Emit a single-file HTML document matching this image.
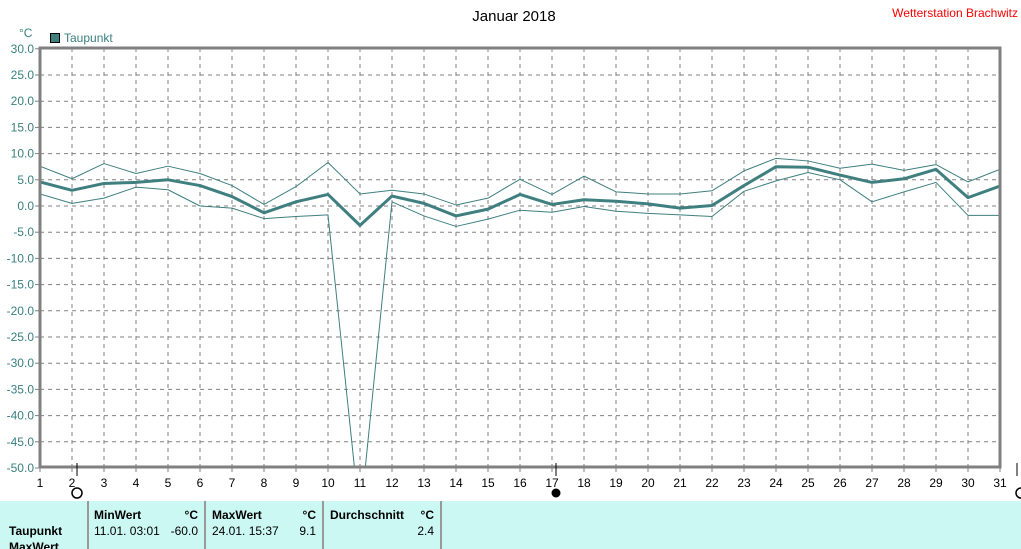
<!DOCTYPE html>
<html><head><meta charset="utf-8"><style>
body{margin:0;background:#fff;width:1021px;height:549px;overflow:hidden;font-family:"Liberation Sans",sans-serif}
svg{display:block}
</style></head><body>
<svg width="1021" height="549">
<text x="514" y="21" font-size="15" text-anchor="middle" fill="#000">Januar 2018</text>
<text x="1018" y="17" font-size="12" text-anchor="end" fill="#ff0000">Wetterstation Brachwitz</text>
<text x="19" y="37" font-size="12" fill="#3a8080">°C</text>
<rect x="50.5" y="33.5" width="9" height="9" fill="#3f7f7f" stroke="#000"/>
<text x="64" y="42" font-size="12" fill="#3a8080">Taupunkt</text>
<defs><clipPath id="pc"><rect x="40" y="48" width="960" height="419"/></clipPath></defs>
<g id="grid"></g>
<g id="ylabels"></g>
<g id="xlabels"></g>
<g id="series" clip-path="url(#pc)"></g>
<rect x="40" y="48" width="960" height="419" fill="none" stroke="#808080" stroke-width="3"/>
<line x1="77" y1="463" x2="77" y2="476" stroke="#000"/>
<circle cx="77" cy="493" r="5" fill="none" stroke="#000" stroke-width="1.5"/>
<line x1="556" y1="463" x2="556" y2="476" stroke="#000"/>
<circle cx="556" cy="493" r="4.5" fill="#000"/>
<line x1="1017" y1="463" x2="1017" y2="476" stroke="#000"/>
<circle cx="1021" cy="493" r="5" fill="none" stroke="#000" stroke-width="1.5"/>
<g font-size="12">
<rect x="0" y="501" width="1021" height="48" fill="#ccf8f4"/>
<g stroke="#999" stroke-width="2"><line x1="88" y1="501" x2="88" y2="549"/><line x1="205" y1="501" x2="205" y2="549"/><line x1="323" y1="501" x2="323" y2="549"/><line x1="441" y1="501" x2="441" y2="549"/></g>
<g font-weight="bold"><text x="94" y="519">MinWert</text><text x="198" y="519" text-anchor="end">°C</text>
<text x="212" y="519">MaxWert</text><text x="316" y="519" text-anchor="end">°C</text>
<text x="330" y="519">Durchschnitt</text><text x="434" y="519" text-anchor="end">°C</text>
<text x="9" y="535">Taupunkt</text><text x="9" y="551">MaxWert</text></g>
<text x="94" y="535">11.01.  03:01</text><text x="198" y="535" text-anchor="end">-60.0</text>
<text x="212" y="535">24.01.  15:37</text><text x="316" y="535" text-anchor="end">9.1</text>
<text x="434" y="535" text-anchor="end">2.4</text>
</g>
</svg>
<script>
const days=[1,2,3,4,5,6,7,8,9,10,11,12,13,14,15,16,17,18,19,20,21,22,23,24,25,26,27,28,29,30,31];
const meanVals=[4.6,3.0,4.3,4.5,5.0,3.9,1.8,-1.3,0.8,2.2,-3.7,1.9,0.5,-1.9,-0.6,2.2,0.3,1.2,0.9,0.4,-0.4,0.1,3.9,7.5,7.4,5.9,4.5,5.2,7.0,1.6,3.8];
const maxVals=[7.6,5.2,8.1,6.2,7.6,6.2,3.9,0.3,3.7,8.3,2.3,3.0,2.3,0.2,1.5,5.1,2.2,5.7,2.7,2.3,2.3,2.9,6.7,9.1,8.6,7.2,8.0,6.8,7.9,4.6,7.0];
const minVals=[2.3,0.5,1.5,3.6,3.1,0.0,-0.4,-2.4,-2.0,-1.7,-60.0,0.8,-1.9,-3.9,-2.5,-0.8,-1.2,-0.1,-1.0,-1.4,-1.7,-2.0,2.8,4.8,6.4,5.0,0.8,2.7,4.5,-1.8,-1.8];
const yTicks=[30,25,20,15,10,5,0,-5,-10,-15,-20,-25,-30,-35,-40,-45,-50];
const NS='http://www.w3.org/2000/svg';
const xs=d=>40+(d-1)*32;
const ys=v=>206-v*5.24;
function mk(t,a,p){const e=document.createElementNS(NS,t);for(const k in a)e.setAttribute(k,a[k]);p.appendChild(e);return e;}
const grid=document.getElementById('grid'),yl=document.getElementById('ylabels'),xl=document.getElementById('xlabels'),ser=document.getElementById('series');
yTicks.forEach(v=>{
  const y=ys(v);
  const l=mk('line',{x1:40,x2:1000,y1:y,y2:y,stroke:'#808080','stroke-dasharray':'4,4'},grid);
  
  
  mk('line',{x1:35,x2:40,y1:y,y2:y,stroke:'#808080'},grid);
  const t=mk('text',{x:34,y:y+4,'font-size':12,'text-anchor':'end',fill:'#3a8080'},yl);
  
  
  t.textContent=v.toFixed(1);
});
days.forEach(d=>{
  const x=xs(d);
  const l=mk('line',{x1:x,x2:x,y1:48,y2:467,stroke:'#808080','stroke-dasharray':'4,4'},grid);
  
  
  mk('line',{x1:x,x2:x,y1:467,y2:472,stroke:'#808080'},grid);
  const t=mk('text',{x:x,y:487,'font-size':12,'text-anchor':'middle',fill:'#000'},xl);
  
  
  t.textContent=d;
});
function line(vals,w,name){
  const p=mk('polyline',{points:vals.map((v,i)=>xs(days[i])+','+ys(v)).join(' '),fill:'none',stroke:'#3f7f7f','stroke-width':w,'stroke-linejoin':'round'},ser);
  
  
}
line(maxVals,1,'max-line');
line(minVals,1,'min-line');
line(meanVals,3,'mean-line');
</script>
</body></html>
